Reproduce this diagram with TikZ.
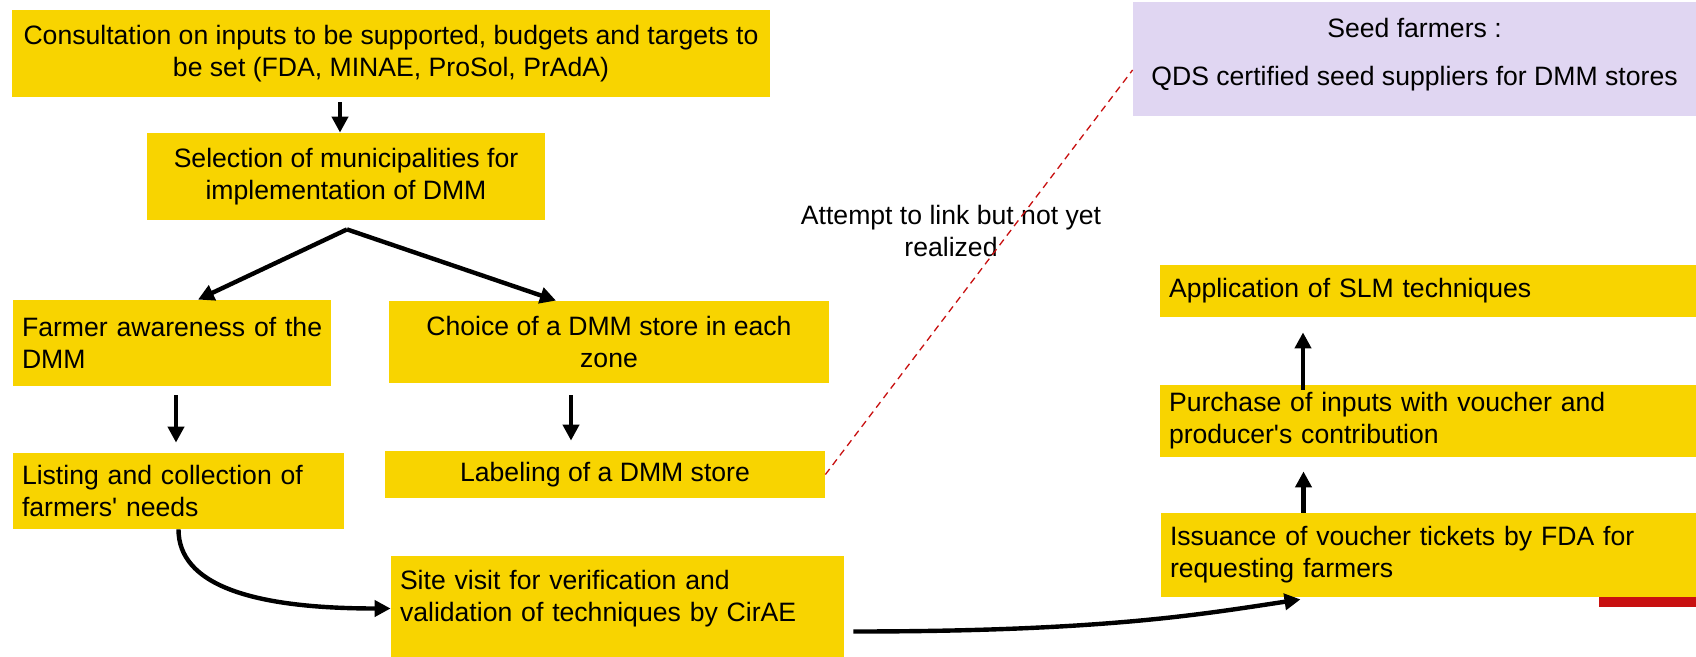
\documentclass[tikz,border=0pt]{standalone}
\usepackage{fontspec}
\setmainfont{Liberation Sans}
\usetikzlibrary{arrows.meta,calc}
\definecolor{ybox}{RGB}{248,212,0}
\definecolor{lav}{RGB}{224,214,242}
\definecolor{dred}{RGB}{200,16,16}
\begin{document}
\begin{tikzpicture}[x=0.5pt,y=-0.5pt,
  every node/.style={font=\fontsize{13.3}{16}\selectfont, text=black},
  cbox/.style={fill=ybox, align=center, inner xsep=4.5pt, inner ysep=0pt},
  lbox/.style={fill=ybox, align=left, inner xsep=4.5pt, inner ysep=0pt},
  arr/.style={line width=2.2pt, -{Triangle[length=8pt,width=8pt]}},
  link/.style={dred, line width=0.65pt, dash pattern=on 3.5pt off 2.5pt}
]
\useasboundingbox (0,0) rectangle (1696,657);
\fill[white] (0,0) rectangle (1696,657);

\node[cbox, minimum width=379pt, minimum height=43.5pt] (c1) at (391,53.5)
  {Consultation on inputs to be supported, budgets and targets to\\be set (FDA, MINAE, ProSol, PrAdA)};
\node[cbox, minimum width=199pt, minimum height=43.5pt] (c2) at (346,176.5)
  {Selection of municipalities for\\implementation of DMM};
\node[lbox, text width=150pt, minimum height=43pt] (c3) at (172,343)
  {\mbox{Farmer awareness of the}\\DMM};
\node[cbox, minimum width=220pt, minimum height=41pt] (c4) at (609,342)
  {Choice of a DMM store in each\\zone};
\node[lbox, text width=156.5pt, minimum height=38pt] (c5) at (178.5,491)
  {Listing and collection of\\farmers\textquotesingle{} needs};
\node[cbox, minimum width=220pt, minimum height=23.5pt] (c6) at (605,474.5)
  {Labeling of a DMM store};
\node[lbox, text width=217.5pt, minimum height=50.5pt] (c7) at (617.5,606.5)
  {Site visit for verification and\\validation of techniques by CirAE\\[-5.5pt]\mbox{}};
\node[fill=lav, align=center, inner sep=0pt, minimum width=281.5pt, minimum height=57pt] (s) at (1414.5,59)
  {Seed farmers :\\[8pt]QDS certified seed suppliers for DMM stores\\[-8.5pt]\mbox{}};
\node[lbox, text width=259pt, minimum height=26pt] (a1) at (1428,291)
  {Application of SLM techniques};
\node[lbox, text width=259pt, minimum height=36pt] (a2) at (1428,421)
  {Purchase of inputs with voucher and\\producer\textquotesingle{}s contribution};
\fill[dred] (1599,590) rectangle (1696,607);
\node[lbox, text width=258.5pt, minimum height=42pt] (a3) at (1428.5,555)
  {Issuance of voucher tickets by FDA for\\requesting farmers};
\node[align=center, inner sep=0pt] (lbl) at (951,231)
  {Attempt to link but not yet\\realized};

% connectors
\coordinate (p2) at ($(c2.north)+(-6,0)$);
\draw[arr, shorten <=2.5pt] (p2 |- c1.south) -- (p2);
\coordinate (br) at ($(c2.south)+(1,9)$);
\draw[arr] (br) -- ($(c3.north)+(26,0)$);
\draw[arr] (br) -- ($(c4.north)+(-53,0)$);
\coordinate (p3) at ($(c3.south)+(4,0)$);
\coordinate (p4) at ($(c4.south)+(-38,0)$);
\coordinate (q3) at ($(a3.north)+(-125,0)$);
\coordinate (q2) at ($(a2.north)+(-125,0)$);
\draw[arr, shorten <=4.5pt, shorten >=5pt] (p3) -- (p3 |- c5.north);
\draw[arr, shorten <=6pt, shorten >=5pt] (p4) -- (p4 |- c6.north);
\draw[arr] (c5.south) .. controls +(0,55) and +(-140,0) .. ($(c7.west)+(0,2)$);
\draw[arr] ($(c7.east)+(9,25)$) .. controls +(250,0) and +(-100,15) .. ($(a3.south)+(-128,2)$);
\draw[arr, shorten >=7pt] (q3) -- (q3 |- a2.south);
\draw[arr, shorten <=-2.5pt, shorten >=7.5pt] (q2) -- (q2 |- a1.south);
\draw[link] (c6.east) -- ($(s.west)+(0,11)$);
\end{tikzpicture}
\end{document}
